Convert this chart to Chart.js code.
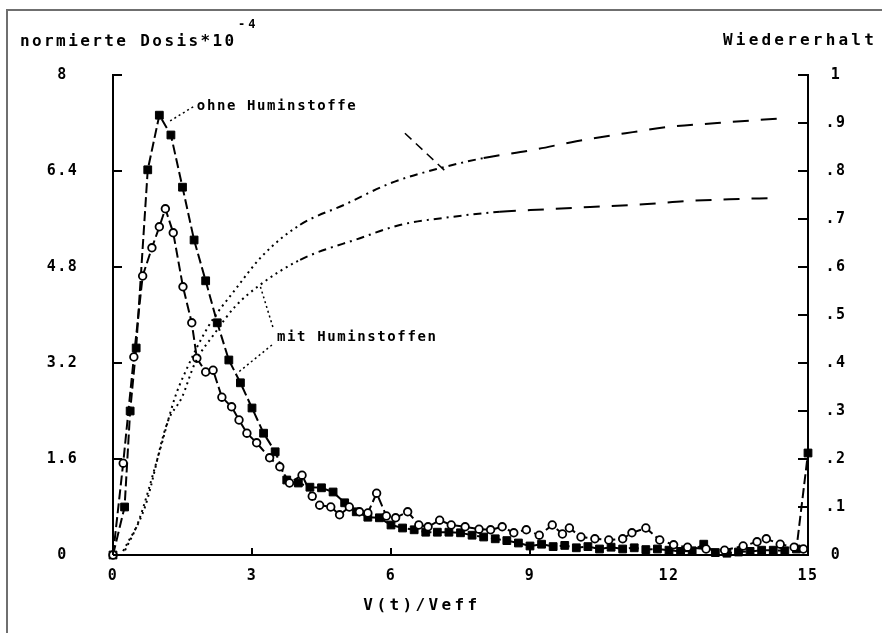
<!DOCTYPE html>
<html><head><meta charset="utf-8">
<script src="https://cdn.jsdelivr.net/npm/chart.js@4/dist/chart.umd.min.js"></script>
<style>html,body{margin:0;padding:0;background:#fff;overflow:hidden}</style>
</head><body>
<canvas id="c" width="882" height="633"></canvas>
<script>
// ---- tick values / labels ----
const xTicks = [0, 3, 6, 9, 12, 15];
const doseTicks = [0, 1.6, 3.2, 4.8, 6.4, 8];
const doseTickLabels = ['0', '1.6', '3.2', '4.8', '6.4', '8'];
const recTicks = [0, 0.1, 0.2, 0.3, 0.4, 0.5, 0.6, 0.7, 0.8, 0.9, 1];
const recTickLabels = ['0', '.1', '.2', '.3', '.4', '.5', '.6', '.7', '.8', '.9', '1'];

// ---- dose, ohne Huminstoffe (filled markers) ----
const doseOhneX = [0,0.25,0.37,0.5,0.75,1,1.25,1.5,1.75,2,2.25,2.5,2.75,3,3.25,3.5,3.75,4,4.25,4.5,4.75,5,5.25,5.5,5.75,6,6.25,6.5,6.75,7,7.25,7.5,7.75,8,8.25,8.5,8.75,9,9.25,9.5,9.75,10,10.25,10.5,10.75,11,11.25,11.5,11.75,12,12.25,12.5,12.75,13,13.25,13.5,13.75,14,14.25,14.5,14.75,15];
const doseOhneY = [0,0.8,2.4,3.45,6.42,7.33,7.0,6.13,5.25,4.57,3.87,3.25,2.87,2.45,2.03,1.72,1.25,1.2,1.13,1.12,1.05,0.87,0.72,0.63,0.62,0.5,0.45,0.42,0.38,0.38,0.38,0.37,0.33,0.3,0.27,0.24,0.2,0.15,0.18,0.14,0.16,0.12,0.14,0.1,0.13,0.1,0.12,0.09,0.1,0.08,0.06,0.07,0.18,0.04,0.03,0.05,0.06,0.08,0.08,0.07,0.1,1.7];

// ---- dose, mit Huminstoffen (open markers) ----
const doseMitX = [0,0.22,0.45,0.64,0.84,1.0,1.13,1.3,1.51,1.7,1.81,2.0,2.16,2.35,2.56,2.72,2.89,3.1,3.38,3.6,3.81,4.08,4.3,4.46,4.7,4.89,5.1,5.32,5.5,5.69,5.9,6.1,6.36,6.6,6.8,7.05,7.3,7.6,7.9,8.15,8.4,8.65,8.92,9.2,9.48,9.7,9.85,10.1,10.4,10.7,11.0,11.2,11.5,11.8,12.1,12.4,12.8,13.2,13.6,13.9,14.1,14.4,14.7,14.9];
const doseMitY = [0,1.53,3.3,4.65,5.12,5.47,5.77,5.37,4.47,3.87,3.28,3.05,3.08,2.63,2.47,2.25,2.03,1.87,1.62,1.47,1.2,1.33,0.98,0.83,0.8,0.67,0.8,0.72,0.7,1.03,0.65,0.62,0.72,0.5,0.47,0.58,0.5,0.47,0.43,0.42,0.47,0.37,0.42,0.33,0.5,0.35,0.45,0.3,0.27,0.25,0.27,0.37,0.45,0.25,0.17,0.13,0.1,0.08,0.15,0.22,0.27,0.18,0.13,0.1];

// ---- Wiedererhalt (recovery), ohne Huminstoffe ----
const recOhneX = [0.26,0.54,0.97,1.34,1.55,2.05,2.63,3.24,4.04,5.0,6.0,7.06,8.0,9.07,10.0,11.22,12.0,13.04,14.46];
const recOhneY = [0.01,0.067,0.204,0.329,0.379,0.475,0.552,0.625,0.688,0.73,0.775,0.806,0.827,0.844,0.862,0.881,0.892,0.9,0.91];

// ---- Wiedererhalt (recovery), mit Huminstoffen ----
const recMitX = [0.22,0.69,1.17,1.49,1.77,2.2,2.63,3.17,4.04,5.33,6.19,7.2,8.35,9.3,10.3,11.53,12.39,13.3,14.33];
const recMitY = [0.008,0.1,0.275,0.329,0.4,0.4625,0.517,0.5625,0.615,0.66,0.6875,0.703,0.715,0.72,0.725,0.731,0.7375,0.741,0.744];

// ---- annotation texts ----
const labelOhne = 'ohne Huminstoffe';
const labelMit = 'mit Huminstoffen';
const titleLeft = 'normierte Dosis*10';
const titleLeftSup = '-4';
const titleRight = 'Wiedererhalt';
const titleX = 'V(t)/Veff';

const pts = (xs, ys) => xs.map((x, i) => ({x, y: ys[i]}));
const mono = "'DejaVu Sans Mono', monospace";

function recDash(ctx) {
  const x = ctx.p0.parsed.x;
  if (x < 3.3) return [2, 4];
  if (x < 8) return [8, 5, 2, 5];
  return [16, 12];
}

const decor = {
  id: 'decor',
  beforeDraw(chart) { chart.ctx.letterSpacing = '1.5px'; },
  afterDatasetsDraw(chart) {
    const {ctx, chartArea: a, scales: {x, yDose, yRec}} = chart;
    ctx.save();
    ctx.letterSpacing = '0px';
    ctx.strokeStyle = '#000';
    ctx.lineWidth = 2;
    ctx.setLineDash([]);
    const line = (x1, y1, x2, y2) => { ctx.beginPath(); ctx.moveTo(x1, y1); ctx.lineTo(x2, y2); ctx.stroke(); };
    xTicks.forEach(v => { const p = x.getPixelForValue(v); line(p, a.bottom, p, a.bottom - 7); });
    doseTicks.forEach(v => { const p = yDose.getPixelForValue(v); line(a.left, p, a.left + 9, p); });
    recTicks.forEach(v => { const p = yRec.getPixelForValue(v); line(a.right, p, a.right - 10, p); });

    // leaders
    const X = v => x.getPixelForValue(v), D = v => yDose.getPixelForValue(v);
    ctx.lineWidth = 1.5;
    ctx.setLineDash([2, 3]);
    line(X(1.73), D(7.47), X(1.18), D(7.21));
    line(X(3.45), D(3.8), X(3.17), D(4.5));
    line(X(3.43), D(3.5), X(2.68), D(3.03));
    ctx.setLineDash([9, 6]);
    line(X(6.3), D(7.03), X(7.17), D(6.4));

    // labels in plot
    ctx.setLineDash([]);
    ctx.fillStyle = '#000';
    ctx.font = 'bold 14px ' + mono;
    ctx.letterSpacing = '1.6px';
    ctx.textBaseline = 'middle';
    ctx.textAlign = 'left';
    ctx.fillText(labelOhne, X(1.81), D(7.47));
    ctx.fillText(labelMit, X(3.54), D(3.62));
    ctx.restore();
  },
  afterDraw(chart) {
    const {ctx} = chart;
    ctx.save();
    // outer frame
    ctx.strokeStyle = '#6f6f6f';
    ctx.lineWidth = 2;
    ctx.beginPath(); ctx.moveTo(7, 633); ctx.lineTo(7, 10); ctx.lineTo(882, 10); ctx.stroke();
    ctx.fillStyle = '#000';
    ctx.textBaseline = 'middle';
    ctx.font = 'bold 16px ' + mono;
    ctx.letterSpacing = '2.4px';
    ctx.textAlign = 'left';
    ctx.fillText(titleLeft, 20, 42);
    ctx.font = 'bold 12px ' + mono;
    ctx.letterSpacing = '3px';
    ctx.fillText(titleLeftSup, 238, 25);
    ctx.font = 'bold 16px ' + mono;
    ctx.letterSpacing = '3.2px';
    ctx.textAlign = 'left';
    ctx.fillText(titleRight, 723, 41);
    ctx.letterSpacing = '3.4px';
    ctx.textAlign = 'center';
    ctx.fillText(titleX, 422, 606);
    ctx.restore();
    ctx.letterSpacing = '0px';
  }
};

new Chart(document.getElementById('c'), {
  type: 'line',
  data: {
    datasets: [
      {
        label: 'Wiedererhalt ohne', yAxisID: 'yRec', data: pts(recOhneX, recOhneY),
        borderColor: '#000', borderWidth: 2, pointRadius: 0, fill: false, cubicInterpolationMode: 'monotone',
        segment: {borderDash: recDash}
      },
      {
        label: 'Wiedererhalt mit', yAxisID: 'yRec', data: pts(recMitX, recMitY),
        borderColor: '#000', borderWidth: 2, pointRadius: 0, fill: false, cubicInterpolationMode: 'monotone',
        segment: {borderDash: recDash}
      },
      {
        label: 'mit Huminstoffen', yAxisID: 'yDose', data: pts(doseMitX, doseMitY),
        borderColor: '#000', borderWidth: 2, borderDash: [10, 4], fill: false, tension: 0,
        pointStyle: 'circle', pointRadius: 3.8, pointBackgroundColor: '#fff',
        pointBorderColor: '#000', pointBorderWidth: 1.8
      },
      {
        label: 'ohne Huminstoffe', yAxisID: 'yDose', data: pts(doseOhneX, doseOhneY),
        borderColor: '#000', borderWidth: 2, borderDash: [10, 4], fill: false, tension: 0,
        pointStyle: 'rect', pointRadius: 5.5, pointBackgroundColor: '#000',
        pointBorderColor: '#000', pointBorderWidth: 1
      }
    ]
  },
  options: {
    responsive: false,
    devicePixelRatio: 1,
    animation: false,
    clip: false,
    layout: {padding: {top: 75, left: 0, right: 0, bottom: 0}},
    plugins: {legend: {display: false}, tooltip: {enabled: false}, title: {display: false}},
    scales: {
      x: {
        type: 'linear', position: 'bottom', min: 0, max: 15,
        afterBuildTicks: s => { s.ticks = xTicks.map(v => ({value: v})); },
        afterFit: s => { s.height = 78; },
        grid: {display: false, drawTicks: false},
        border: {display: true, color: '#000', width: 2},
        ticks: {color: '#000', font: {family: mono, size: 15, weight: 'bold'}, padding: 12, maxRotation: 0, autoSkip: false,
          callback: v => String(v)}
      },
      yDose: {
        type: 'linear', position: 'left', min: 0, max: 8,
        afterBuildTicks: s => { s.ticks = doseTicks.map(v => ({value: v})); },
        afterFit: s => { s.width = 113; },
        grid: {display: false, drawTicks: false},
        border: {display: true, color: '#000', width: 2},
        ticks: {color: '#000', font: {family: mono, size: 15, weight: 'bold'}, padding: 37, crossAlign: 'center',
          callback: v => doseTickLabels[doseTicks.indexOf(v)]}
      },
      yRec: {
        type: 'linear', position: 'right', min: 0, max: 1,
        afterBuildTicks: s => { s.ticks = recTicks.map(v => ({value: v})); },
        afterFit: s => { s.width = 74; },
        grid: {display: false, drawTicks: false},
        border: {display: true, color: '#000', width: 2},
        ticks: {color: '#000', font: {family: mono, size: 15, weight: 'bold'}, padding: 19, crossAlign: 'center',
          callback: v => recTickLabels[recTicks.indexOf(v)]}
      }
    }
  },
  plugins: [decor]
});
</script>
</body></html>
